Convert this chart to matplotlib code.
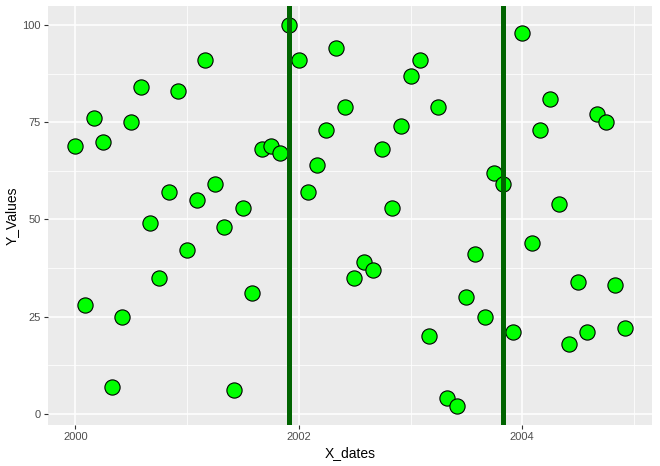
import matplotlib

matplotlib.use("Agg")
import matplotlib.dates as mdates
import matplotlib.pyplot as plt
import numpy as np
import pandas as pd

plt.rcParams["font.family"] = ["Liberation Sans", "DejaVu Sans"]

# monthly observations, Jan 2000 .. Dec 2004
dates = pd.date_range("2000-01-01", periods=60, freq="MS")
y_values = [
    69, 28, 76, 70, 7, 25, 75, 84, 49, 35, 57, 83,
    42, 55, 91, 59, 48, 6, 53, 31, 68, 69, 67, 100,
    91, 57, 64, 73, 94, 79, 35, 39, 37, 68, 53, 74,
    87, 91, 20, 79, 4, 2, 30, 41, 25, 62, 59, 21,
    98, 44, 73, 81, 54, 18, 34, 21, 77, 75, 33, 22,
]
vline_dates = pd.to_datetime(["2001-12-01", "2003-11-01"])
x_breaks = pd.to_datetime(["2000-01-01", "2002-01-01", "2004-01-01"])
x_minor = pd.to_datetime(["2001-01-01", "2003-01-01", "2005-01-01"])
x_labels = ["2000", "2002", "2004"]
y_breaks = [0, 25, 50, 75, 100]
y_minor = [12.5, 37.5, 62.5, 87.5]

fig = plt.figure(figsize=(6.6, 4.66), dpi=100)
ax = fig.add_axes([48 / 660, 41 / 466, 604 / 660, 419 / 466])
ax.set_facecolor("#EBEBEB")
for s in ax.spines.values():
    s.set_visible(False)

xn = mdates.date2num(dates)
span = xn.max() - xn.min()
ax.set_xlim(xn.min() - 0.05 * span, xn.max() + 0.05 * span)
yr = max(y_values) - min(y_values)
ax.set_ylim(min(y_values) - 0.05 * yr, max(y_values) + 0.05 * yr)

for v in mdates.date2num(x_minor):
    ax.axvline(v, color="white", lw=0.55, zorder=0)
for v in y_minor:
    ax.axhline(v, color="white", lw=0.55, zorder=0)
for v in mdates.date2num(x_breaks):
    ax.axvline(v, color="white", lw=1.1, zorder=0)
for v in y_breaks:
    ax.axhline(v, color="white", lw=1.1, zorder=0)

ax.scatter(xn, y_values, s=120, c="#00FF00", edgecolors="black", linewidths=0.8, zorder=3)
for v in mdates.date2num(vline_dates):
    ax.axvline(v, color="#006400", lw=3.6, zorder=4)

ax.set_xticks(mdates.date2num(x_breaks))
ax.set_xticklabels(x_labels)
ax.set_yticks(y_breaks)
ax.tick_params(colors="#333333", length=3, width=0.8, labelsize=8, labelcolor="#4D4D4D", pad=2)
ax.set_xlabel("X_dates", fontsize=10, color="black", labelpad=3)
ax.set_ylabel("Y_Values", fontsize=10, color="black", labelpad=3)

fig.savefig("out.png", dpi=100)
